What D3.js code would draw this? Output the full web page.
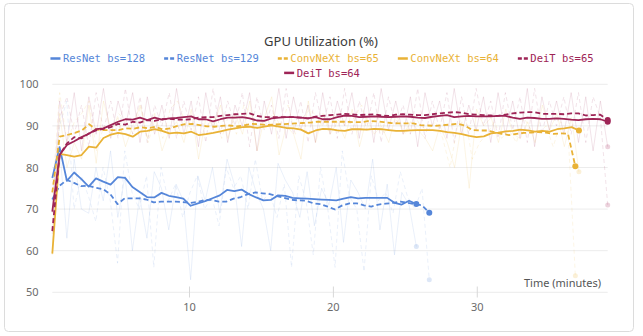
<!DOCTYPE html>
<html><head><meta charset="utf-8">
<script src="https://cdn.jsdelivr.net/npm/d3@7"></script>
<style>html,body{margin:0;padding:0;background:#fff;}svg{display:block;}</style>
</head><body>
<script>
// ---------------- DATA ----------------
const title = "GPU Utilization (%)";
const xLabel = "Time (minutes)";
const xTicks = [10, 20, 30];
const yTicks = [50, 60, 70, 80, 90, 100];
const legendNames = ["ResNet bs=128", "ResNet bs=129", "ConvNeXt bs=65", "ConvNeXt bs=64", "DeiT bs=65", "DeiT bs=64"];

// run time spans (minutes): [start, end]
const resnet128Span = [0.5, 25.8];
const resnet129Span = [0.5, 26.7];
const convnext65Span = [0.5, 36.85];
const convnext64Span = [0.5, 37.1];
const deit65Span = [0.5, 39.1];
const deit64Span = [0.5, 39.1];

// smoothed values
const resnet128Smooth = [77.5,84.9,76.8,78.8,77.2,75.4,77.4,76.6,75.9,77.7,77.5,75.3,74.1,72.9,72.8,73.9,73.2,72.9,72.5,70.8,71.4,71.9,72.6,73.3,74.6,74.3,74.7,73.6,72.8,72.1,72.2,73.3,73.2,72.7,72.6,72.5,72.4,72.3,72.2,72.1,72.5,72.9,72.6,72.7,72.7,72.7,72.7,71.5,71.1,72.0,71.2];
const resnet128Raw = [77,85,63,82,70,69,80,72,84,68,78,60,73,63,79,75,65,76,72,53,78,72,80,69,82,76,61,80,74,70,60,81,77,74,68,79,66,75,71,80,62,77,74,70,82,65,76,59,74,71,61];

const resnet129Smooth = [72.3,75.6,77.0,76.3,75.5,75.6,75.1,74.8,73.6,71.2,72.6,72.6,72.6,72.3,71.6,71.8,71.8,71.8,71.7,71.5,71.7,72.2,72.2,71.8,71.8,72.5,72.9,73.6,74.0,73.8,73.6,73.1,72.7,72.2,72.1,72.0,71.4,71.2,70.6,69.9,70.9,71.4,71.4,70.9,70.6,71.1,71.3,71.5,71.8,71.5,71.2,70.9,69.1];
const resnet129Raw = [72,90,96,70,78,73,67,80,72,57,84,74,70,78,56,80,72,76,68,74,78,70,73,66,80,75,78,70,82,72,74,68,76,56,78,72,59,80,70,56,84,73,70,55,78,72,74,69,79,73,70,75,53];

const convnext65Smooth = [74,87.4,87.8,88.3,88.9,90.4,89.1,89.0,89.0,89.0,89.4,89.3,89.7,89.4,89.8,89.1,89.4,90.0,90.4,90.5,90.2,89.9,89.8,90.0,90.1,89.9,90.1,90.5,90.4,90.2,90.3,90.4,90.5,90.6,90.7,90.8,91.0,91.0,91.0,91.0,91.0,90.9,90.9,91.2,91.1,90.9,90.7,90.6,90.6,90.6,90.2,90.1,90.0,90.2,90.3,90.5,90.1,89.0,88.9,88.9,88.5,88.1,87.8,88.1,88.3,88.4,88.5,88.4,88.1,88.2,88.1,80.3];
const convnext65Raw = [74,98,86,91,93,96,84,90,88,93,91,88,95,86,92,87,94,96,91,89,88,90,92,87,93,88,95,93,89,91,93,90,95,88,92,94,92,89,93,91,90,92,95,89,93,88,92,91,88,93,90,89,91,87,80,90,93,82,86,88,91,87,89,86,92,89,88,90,85,91,89,54];

const convnext64Smooth = [59.3,83.3,83.0,82.6,83.0,85.0,84.8,87.1,87.9,88.3,88.0,87.4,88.6,88.8,89.2,88.8,88.2,88.4,88.2,88.6,87.8,88.0,88.3,88.7,89.1,89.4,89.7,89.8,89.5,89.8,90.1,89.8,89.5,89.4,89.1,88.2,88.9,89.3,89.2,88.9,88.8,89.2,89.2,89.1,89.3,89.2,89.0,88.8,88.8,88.9,89.0,89.0,89.0,88.8,88.5,88.3,88.0,87.6,87.3,87.5,88.2,88.4,88.7,88.8,89.1,88.9,88.6,88.8,88.6,89.2,89.4,89.7,88.9];
const convnext64Raw = [59,93,80,86,82,95,81,96,89,92,85,90,95,87,93,84,89,91,86,94,82,92,90,95,87,93,88,96,84,92,97,83,90,88,82,96,86,93,88,91,87,94,85,92,88,90,86,93,88,91,89,87,84,90,86,80,91,75,94,90,92,86,94,88,87,91,86,95,89,93,85,92,79];

const deit65Smooth = [64.7,83.0,85.8,87.3,87.0,88.2,88.9,89.3,89.7,90.5,90.3,91.0,90.8,91.4,91.2,91.6,91.7,91.5,91.5,91.6,92.0,92.1,92.1,92.4,92.6,92.8,92.9,93.0,92.4,92.1,92.1,92.1,92.1,92.1,92.0,91.8,92.2,92.4,92.6,92.7,92.9,92.8,92.6,92.7,92.8,92.5,92.4,92.7,92.8,92.7,92.6,92.6,92.8,93.0,93.2,93.3,93.2,92.8,92.7,92.6,92.5,92.4,92.7,93.0,93.2,93.3,93.3,92.9,92.9,92.9,92.8,93.0,93.0,92.5,92.6,92.7,91.4];
const deit65Raw = [64,92,97,88,95,85,98,89,96,87,99,88,97,86,95,90,98,87,96,89,97,86,99,88,96,90,98,85,97,89,95,87,99,88,96,86,98,90,97,87,99,88,96,89,98,86,97,90,95,88,99,87,96,89,98,86,97,88,99,90,96,87,98,89,97,86,99,88,96,90,97,88,98,86,97,92,71];

const deit64Smooth = [69.4,83.0,85.4,86.3,87.3,88.1,89.2,89.4,90.2,91.0,91.6,91.5,92.0,91.4,92.0,91.5,91.8,91.9,92.1,92.3,91.6,91.6,91.1,91.6,92.0,92.0,92.1,91.8,91.3,91.2,91.8,92.0,92.1,92.1,92.0,91.8,92.1,91.6,91.6,92.1,92.5,92.4,92.1,92.2,92.3,92.2,92.1,92.2,92.3,92.2,92.0,91.9,92.2,92.4,92.6,92.1,92.3,92.4,92.3,92.3,92.3,92.4,92.4,92.0,91.7,92.0,91.9,91.7,91.7,91.8,91.7,91.5,91.4,91.6,91.7,91.6,91.0];
const deit64Raw = [69,96,86,98,84,97,88,99,87,96,90,98,86,97,88,95,87,99,88,96,85,98,89,97,86,95,90,98,84,96,88,99,87,97,89,95,86,98,88,96,90,98,87,97,86,99,89,96,88,97,85,98,90,96,87,99,88,95,89,97,86,98,88,96,87,99,85,97,89,96,88,98,86,97,84,96,85];

// ---------------- STYLE / SETUP ----------------
const W = 643, H = 336;
const BLUE = "#5586d9", GOLD = "#e9b236", DEIT = "#9e2456";
const series = [
  {name: legendNames[0], color: BLUE, dashed: false, span: resnet128Span, smooth: resnet128Smooth, raw: resnet128Raw, ro: 0.12},
  {name: legendNames[1], color: BLUE, dashed: true,  span: resnet129Span, smooth: resnet129Smooth, raw: resnet129Raw, ro: 0.12},
  {name: legendNames[2], color: GOLD, dashed: true,  span: convnext65Span, smooth: convnext65Smooth, raw: convnext65Raw, ro: 0.13},
  {name: legendNames[3], color: GOLD, dashed: false, span: convnext64Span, smooth: convnext64Smooth, raw: convnext64Raw, ro: 0.13},
  {name: legendNames[4], color: DEIT, dashed: true,  span: deit65Span, smooth: deit65Smooth, raw: deit65Raw, ro: 0.13},
  {name: legendNames[5], color: DEIT, dashed: false, span: deit64Span, smooth: deit64Smooth, raw: deit64Raw, ro: 0.13}
];
// evenly spaced sample times across each run's span
series.forEach(s => {
  const n = s.smooth.length;
  s.t = d3.range(n).map(i => s.span[0] + i * (s.span[1] - s.span[0]) / (n - 1));
});

const svg = d3.select("body").append("svg").attr("width", W).attr("height", H);
svg.append("rect").attr("x", 0).attr("y", 0).attr("width", W).attr("height", H).attr("fill", "#fff");
svg.append("rect").attr("x", 4.5).attr("y", 3.5).attr("width", 629).attr("height", 328)
  .attr("rx", 4).attr("fill", "#fff").attr("stroke", "#dcdcdc");

const x = d3.scaleLinear().domain([0.5, 39.1]).range([52.3, 607.7]);
const y = d3.scaleLinear().domain([50, 100]).range([292.3, 84.3]);

// grid
svg.append("g").selectAll("line").data(yTicks).join("line")
  .attr("x1", x.range()[0]).attr("x2", x.range()[1])
  .attr("y1", d => y(d)).attr("y2", d => y(d))
  .attr("stroke", "#ececec").attr("stroke-width", 1);

// y axis labels
const yAxis = d3.axisLeft(y).tickValues(yTicks).tickSize(0).tickPadding(0);
const gy = svg.append("g").attr("transform", "translate(38.5,0)").call(yAxis);
gy.select(".domain").remove();
gy.selectAll("text").attr("font-family", "'Noto Sans', sans-serif").attr("font-size", 11).attr("fill", "#6b6b6b");

// x axis
const xAxis = d3.axisBottom(x).tickValues(xTicks).tickSize(11).tickPadding(6);
const gx = svg.append("g").attr("transform", "translate(0,286.5)").call(xAxis);
gx.select(".domain").remove();
gx.selectAll("line").attr("stroke", "#d8d8d8");
gx.selectAll("text").attr("font-family", "'Noto Sans', sans-serif").attr("font-size", 11).attr("fill", "#6b6b6b");

svg.append("text").attr("x", 601).attr("y", 287).attr("text-anchor", "end")
  .attr("font-family", "'Noto Sans', sans-serif").attr("font-size", 11).attr("fill", "#555").text(xLabel);

// raw lines
const plot = svg.append("g");
series.forEach(s => {
  const line = d3.line().x((d, i) => x(s.t[i])).y(d => y(d));
  plot.append("path").datum(s.raw).attr("d", line).attr("fill", "none")
    .attr("stroke", s.color).attr("stroke-opacity", s.ro).attr("stroke-width", 1)
    .attr("stroke-dasharray", s.dashed ? "4,3" : null);
  const n = s.raw.length - 1;
  plot.append("circle").attr("cx", x(s.t[n])).attr("cy", y(s.raw[n])).attr("r", 2.5)
    .attr("fill", s.color).attr("fill-opacity", 0.2);
});
// smoothed lines
series.forEach(s => {
  const line = d3.line().x((d, i) => x(s.t[i])).y(d => y(d));
  plot.append("path").datum(s.smooth).attr("d", line).attr("fill", "none")
    .attr("stroke", s.color).attr("stroke-width", 1.8)
    .attr("stroke-linejoin", "round")
    .attr("stroke-dasharray", s.dashed ? "5,3" : null);
  const n = s.smooth.length - 1;
  plot.append("circle").attr("cx", x(s.t[n])).attr("cy", y(s.smooth[n])).attr("r", 3)
    .attr("fill", s.color);
});

// title
svg.append("text").attr("x", 321).attr("y", 46).attr("text-anchor", "middle")
  .attr("font-family", "'Noto Sans', sans-serif").attr("font-size", 13).attr("fill", "#3a3a3a").text(title);

// legend (centered, wrapping)
const lg = svg.append("g");
const items = series.map(s => {
  const g = lg.append("g");
  g.append("line").attr("x1", 0).attr("x2", 10).attr("y1", 0).attr("y2", 0)
    .attr("stroke", s.color).attr("stroke-width", 2.5)
    .attr("stroke-dasharray", s.dashed ? "4,2" : null);
  const t = g.append("text").attr("x", 12.5).attr("y", 3.6)
    .attr("font-family", "'DejaVu Sans Mono', monospace").attr("font-size", 10.5)
    .attr("fill", s.color).text(s.name);
  return {g, w: 12.5 + t.node().getComputedTextLength()};
});
const gap = 19, maxW = 580, rowH = 14.4, cx = 322, y0 = 58.5;
let rows = [[]], cw = 0;
items.forEach(it => {
  const add = (rows[rows.length - 1].length ? gap : 0) + it.w;
  if (cw + add > maxW && rows[rows.length - 1].length) { rows.push([it]); cw = it.w; }
  else { rows[rows.length - 1].push(it); cw += add; }
});
rows.forEach((r, ri) => {
  const tw = d3.sum(r, d => d.w) + gap * (r.length - 1);
  let xx = cx - tw / 2;
  r.forEach(it => { it.g.attr("transform", `translate(${xx},${y0 + ri * rowH})`); xx += it.w + gap; });
});
</script>
</body></html>
